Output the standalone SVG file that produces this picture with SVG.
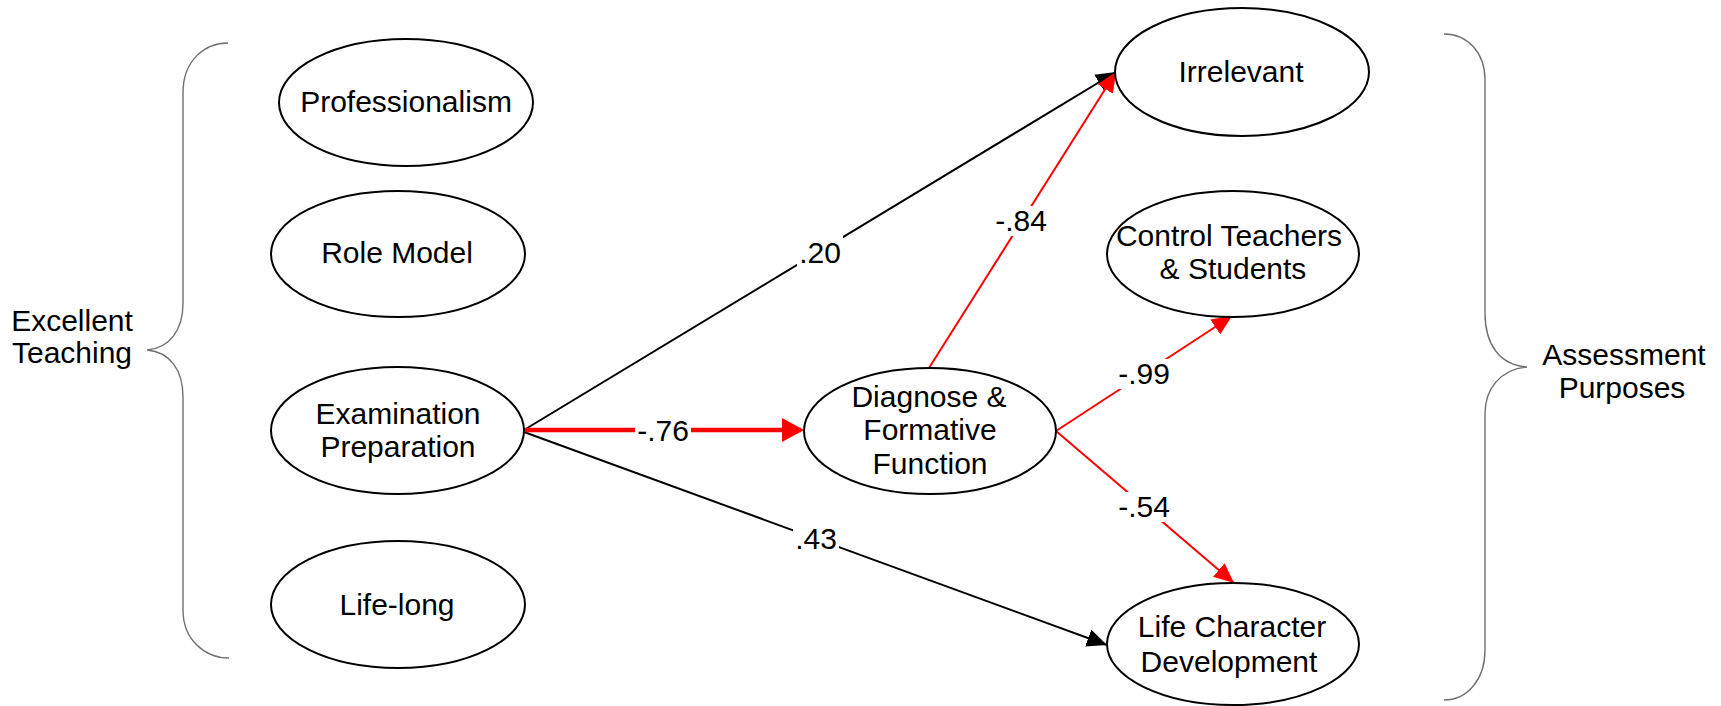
<svg xmlns="http://www.w3.org/2000/svg" width="1721" height="706" viewBox="0 0 1721 706">
  <defs>
    <style>
      .node ellipse { fill: #ffffff; stroke: #000000; stroke-width: 2; }
      text { font-family: "Liberation Sans", Arial, sans-serif; font-size: 30px; fill: #000000; text-anchor: middle; }
      .brace { fill: none; stroke: #707070; stroke-width: 1.4; }
      .pos { fill: none; stroke: #000000; stroke-width: 2; }
      .neg { fill: none; stroke: #ff0000; stroke-width: 2; }
      .neg-strong { fill: none; stroke: #ff0000; stroke-width: 4.5; }
      .lbl-bg { fill: #ffffff; stroke: none; }
    </style>
    <marker id="arrow-black" viewBox="0 0 20 18" refX="20" refY="9" markerWidth="20" markerHeight="18" markerUnits="userSpaceOnUse" orient="auto">
      <path d="M0,0 L20,9 L0,18 Z" fill="#000000"/>
    </marker>
    <marker id="arrow-red" viewBox="0 0 20 18" refX="20" refY="9" markerWidth="20" markerHeight="18" markerUnits="userSpaceOnUse" orient="auto">
      <path d="M0,0 L20,9 L0,18 Z" fill="#ff0000"/>
    </marker>
    <marker id="arrow-red-big" viewBox="0 0 22 24" refX="19" refY="12" markerWidth="22" markerHeight="24" markerUnits="userSpaceOnUse" orient="auto">
      <path d="M0,0 L22,12 L0,24 Z" fill="#ff0000"/>
    </marker>
  </defs>

  <rect x="0" y="0" width="1721" height="706" fill="#ffffff"/>

  <!-- group braces and their captions -->
  <g id="excellent-teaching">
    <path class="brace" d="M228,43 C205,43 183,60 183,93 L183,303 C183,330 170,348 147,350 C170,352 183,370 183,397 L183,610 C183,640 205,658 229,658"/>
    <text x="72" y="331">Excellent</text>
    <text x="72" y="363">Teaching</text>
  </g>
  <g id="assessment-purposes">
    <path class="brace" d="M1444,34 C1467,34 1485,52 1485,80 L1485,313 C1485,345 1500,365 1527,367 C1500,369 1485,390 1485,413 L1485,650 C1485,680 1467,700 1444,700"/>
    <text x="1624" y="365">Assessment</text>
    <text x="1622" y="398">Purposes</text>
  </g>

  <!-- paths between constructs -->
  <g id="connectors">
    <line class="pos" x1="524" y1="430" x2="1116" y2="72" marker-end="url(#arrow-black)"/>
    <line class="pos" x1="524" y1="432" x2="1107" y2="645" marker-end="url(#arrow-black)"/>
    <line class="neg-strong" x1="524" y1="430" x2="801" y2="430" marker-end="url(#arrow-red-big)"/>
    <line class="neg" x1="929" y1="368" x2="1116" y2="72" marker-end="url(#arrow-red)"/>
    <line class="neg" x1="1056" y1="431" x2="1232" y2="316" marker-end="url(#arrow-red)"/>
    <line class="neg" x1="1056" y1="431" x2="1234" y2="583" marker-end="url(#arrow-red)"/>

    <g id="coefficients">
      <rect class="lbl-bg" x="797" y="236" width="46" height="30"/>
      <text x="820" y="263">.20</text>
      <rect class="lbl-bg" x="993" y="206" width="56" height="30"/>
      <text x="1021" y="231">-.84</text>
      <rect class="lbl-bg" x="635" y="416" width="56" height="30"/>
      <text x="663" y="441">-.76</text>
      <rect class="lbl-bg" x="793" y="524" width="46" height="30"/>
      <text x="816" y="549">.43</text>
      <rect class="lbl-bg" x="1116" y="359" width="56" height="30"/>
      <text x="1144" y="384">-.99</text>
      <rect class="lbl-bg" x="1116" y="492" width="56" height="30"/>
      <text x="1144" y="517">-.54</text>
    </g>
  </g>

  <!-- teaching conceptions -->
  <g id="professionalism" class="node">
    <ellipse cx="406" cy="102.5" rx="127" ry="63.5"/>
    <text x="406" y="112">Professionalism</text>
  </g>
  <g id="role-model" class="node">
    <ellipse cx="398" cy="254" rx="127" ry="63"/>
    <text x="397" y="263">Role Model</text>
  </g>
  <g id="examination-preparation" class="node">
    <ellipse cx="397.5" cy="430.5" rx="126.5" ry="63.5"/>
    <text x="398" y="424">Examination</text>
    <text x="398" y="457">Preparation</text>
  </g>
  <g id="life-long" class="node">
    <ellipse cx="398" cy="604.5" rx="127" ry="63.5"/>
    <text x="397" y="615">Life-long</text>
  </g>

  <!-- assessment conceptions -->
  <g id="diagnose-formative" class="node">
    <ellipse cx="930" cy="431" rx="126" ry="63"/>
    <text x="929" y="407">Diagnose &amp;</text>
    <text x="930" y="440">Formative</text>
    <text x="930" y="474">Function</text>
  </g>
  <g id="irrelevant" class="node">
    <ellipse cx="1242" cy="72" rx="127" ry="64"/>
    <text x="1241" y="82">Irrelevant</text>
  </g>
  <g id="control" class="node">
    <ellipse cx="1233" cy="254" rx="126" ry="63"/>
    <text x="1229" y="246">Control Teachers</text>
    <text x="1233" y="279">&amp; Students</text>
  </g>
  <g id="life-character" class="node">
    <ellipse cx="1233" cy="644" rx="126" ry="61"/>
    <text x="1232" y="637">Life Character</text>
    <text x="1229" y="672">Development</text>
  </g>
</svg>
